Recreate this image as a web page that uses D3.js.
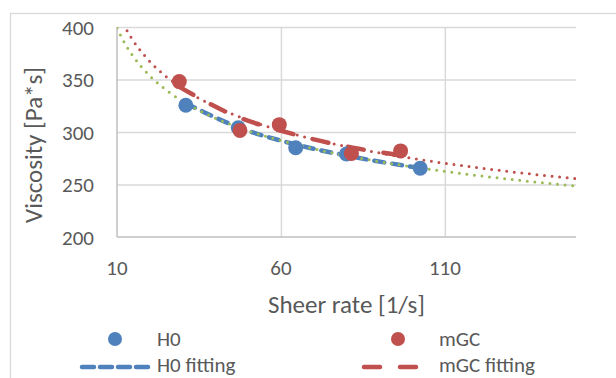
<!DOCTYPE html>
<html>
<head>
<meta charset="utf-8">
<script src="https://cdn.jsdelivr.net/npm/d3@7"></script>
<style>
	body { margin: 0; background: #fff; }
	svg { display: block; font-family: Carlito, Lato, "Open Sans", sans-serif; }
</style>
</head>
<body>
<div class="chart"></div>
<script>
// data
let h0X = [31, 47, 64.5, 80, 102.5];
let h0Y = [325.5, 304, 285, 279, 265.5];
let mgcX = [29, 47.5, 59.5, 81.5, 96.5];
let mgcY = [348, 301.5, 307, 279.5, 282];

let h0FitY = [327.4, 304.5, 288.1, 277.5, 265.7];
let mgcFitY = [343, 313.5, 301.7, 285.3, 277.9];

let trendX = [10, 12.5, 15, 20, 25, 30, 40, 50, 60, 70, 80, 90, 100, 110, 120, 130, 140, 150];
let h0TrendY = [399, 383.8, 371.7, 353.5, 340, 329.3, 313.2, 301.2, 291.8, 284, 277.5, 271.8, 266.9, 262.5, 258.5, 254.9, 251.6, 248.6];
let mgcTrendY = [416, 399.6, 386.7, 367.2, 352.8, 341.4, 324.1, 311.4, 301.3, 293.1, 286.1, 280.1, 274.9, 270.2, 266, 262.2, 258.7, 255.5];

let xTicks = [10, 60, 110];
let yTicks = [200, 250, 300, 350, 400];

let width = 616, height = 378;
let plot = { left: 117, right: 576, top: 27, bottom: 237 };

let blue = "#4f81bd", red = "#c0504d", green = "#9bbb59", textCol = "#595959";

let x = d3.scaleLinear().domain([10, 150]).range([plot.left, plot.right]);
let y = d3.scaleLinear().domain([200, 400]).range([plot.bottom, plot.top]);

let svg = d3.select(".chart").append("svg").attr("width", width).attr("height", height);

// outer frame (runs off the image)
svg.append("rect").attr("x", 10.5).attr("y", 13.5).attr("width", 800).attr("height", 600)
	.attr("fill", "none").attr("stroke", "#d9d9d9").attr("stroke-width", 1.3);

// grid
svg.append("g")
	.attr("transform", "translate(" + plot.left + ",0)")
	.call(d3.axisLeft(y).tickValues(yTicks.slice(1)).tickSize(-(plot.right - plot.left)).tickFormat(""))
	.call(g => g.select(".domain").remove())
	.selectAll("line").attr("stroke", "#d9d9d9").attr("stroke-width", 1.5);

svg.append("g")
	.attr("transform", "translate(0," + plot.bottom + ")")
	.call(d3.axisBottom(x).tickValues(xTicks.slice(1)).tickSize(-(plot.bottom - plot.top)).tickFormat(""))
	.call(g => g.select(".domain").remove())
	.selectAll("line").attr("stroke", "#d9d9d9").attr("stroke-width", 1.5);

// axis lines
svg.append("line").attr("x1", plot.left).attr("x2", plot.left).attr("y1", plot.top).attr("y2", plot.bottom)
	.attr("stroke", "#bfbfbf").attr("stroke-width", 1.5);
svg.append("line").attr("x1", plot.left).attr("x2", plot.right).attr("y1", plot.bottom).attr("y2", plot.bottom)
	.attr("stroke", "#bfbfbf").attr("stroke-width", 1.5);

// tick labels
svg.append("g").selectAll("text").data(yTicks).join("text")
	.attr("x", 94).attr("y", d => y(d) + 7.5)
	.attr("text-anchor", "end").attr("fill", textCol).attr("font-size", 21)
	.text(d => d);

svg.append("g").selectAll("text").data(xTicks).join("text")
	.attr("x", d => x(d)).attr("y", 275)
	.attr("text-anchor", "middle").attr("fill", textCol).attr("font-size", 21)
	.text(d => d);

// axis titles
svg.append("text").attr("x", (plot.left + plot.right) / 2).attr("y", 313)
	.attr("text-anchor", "middle").attr("fill", textCol).attr("font-size", 25)
	.text("Sheer rate [1/s]");

svg.append("text").attr("transform", "translate(42,145) rotate(-90)")
	.attr("text-anchor", "middle").attr("fill", textCol).attr("font-size", 25)
	.text("Viscosity [Pa*s]");

svg.append("clipPath").attr("id", "clip").append("rect")
	.attr("x", plot.left).attr("y", plot.top).attr("width", plot.right - plot.left).attr("height", plot.bottom - plot.top);

let chartGroup = svg.append("g").attr("clip-path", "url(#clip)");

let line = d3.line()
	.x(d => x(d[0]))
	.y(d => y(d[1]))
	.curve(d3.curveMonotoneX);

// fitting lines
chartGroup.append("path")
	.attr("d", line(d3.zip(h0X, h0FitY)))
	.attr("fill", "none").attr("stroke", blue).attr("stroke-width", 4.5)
	.attr("stroke-linecap", "round").attr("stroke-dasharray", "10 8");

chartGroup.append("path")
	.attr("d", line(d3.zip(mgcX, mgcFitY)))
	.attr("fill", "none").attr("stroke", red).attr("stroke-width", 4.5)
	.attr("stroke-linecap", "round").attr("stroke-dasharray", "16 20");

// markers
svg.append("g").selectAll("circle").data(d3.zip(h0X, h0Y)).join("circle")
	.attr("cx", d => x(d[0])).attr("cy", d => y(d[1])).attr("r", 7.5).attr("fill", blue);

svg.append("g").selectAll("circle").data(d3.zip(mgcX, mgcY)).join("circle")
	.attr("cx", d => x(d[0])).attr("cy", d => y(d[1])).attr("r", 7.5).attr("fill", red);

// trendlines
chartGroup.append("path")
	.attr("d", line(d3.zip(trendX, mgcTrendY)))
	.attr("fill", "none").attr("stroke", red).attr("stroke-width", 3)
	.attr("stroke-linecap", "round").attr("stroke-dasharray", "0 7.6");

chartGroup.append("path")
	.attr("d", line(d3.zip(trendX, h0TrendY)))
	.attr("fill", "none").attr("stroke", green).attr("stroke-width", 3)
	.attr("stroke-linecap", "round").attr("stroke-dasharray", "0 7.6");

// legend
let legend = svg.append("g").attr("fill", textCol).attr("font-size", 21);

legend.append("circle").attr("cx", 115).attr("cy", 339).attr("r", 7).attr("fill", blue);
legend.append("text").attr("x", 157).attr("y", 346).text("H0");
legend.append("circle").attr("cx", 398).attr("cy", 339).attr("r", 7).attr("fill", red);
legend.append("text").attr("x", 439).attr("y", 346).text("mGC");

legend.append("line").attr("x1", 82).attr("x2", 150).attr("y1", 367).attr("y2", 367)
	.attr("stroke", blue).attr("stroke-width", 4.5).attr("stroke-linecap", "round").attr("stroke-dasharray", "12 6");
legend.append("text").attr("x", 157).attr("y", 372).text("H0 fitting");
legend.append("line").attr("x1", 364).attr("x2", 416).attr("y1", 367).attr("y2", 367)
	.attr("stroke", red).attr("stroke-width", 4.5).attr("stroke-linecap", "round").attr("stroke-dasharray", "16 20");
legend.append("text").attr("x", 439).attr("y", 372).text("mGC fitting");
</script>
</body>
</html>
